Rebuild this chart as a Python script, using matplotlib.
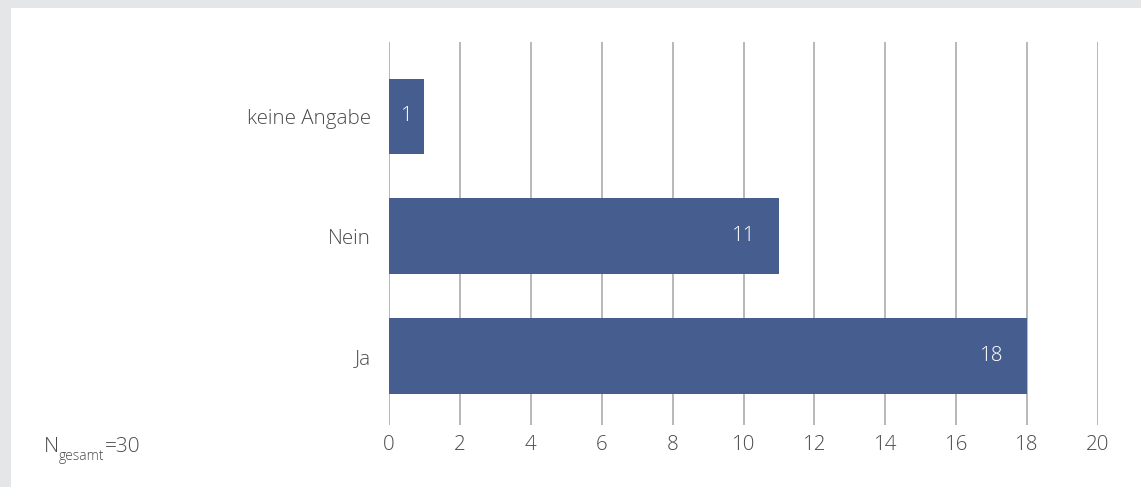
import matplotlib
matplotlib.use("Agg")
import matplotlib.pyplot as plt

categories = ["Ja", "Nein", "keine Angabe"]
values = [18, 11, 1]
xticks = [0, 2, 4, 6, 8, 10, 12, 14, 16, 18, 20]
note_main = "N"
note_sub = "gesamt"
note_tail = "=30"

plt.rcParams['font.family'] = ['Open Sans', 'DejaVu Sans']
plt.rcParams['font.weight'] = 300

W, H = 1141, 487
fig = plt.figure(figsize=(W/100, H/100), dpi=100)
fig.patch.set_facecolor('#e5e6e8')
# white panel
panel = plt.Rectangle((11/W, 0), 1, 1 - 8/H, transform=fig.transFigure,
                      facecolor='white', edgecolor='none', zorder=-10)
fig.patches.append(panel)

ax = fig.add_axes([389/W, (H-425)/H, (1098-389)/W, (425-42)/H])
ax.set_zorder(5)
ax.set_facecolor('none')
bar_color = '#465e8f'
ypos = list(range(len(categories)))
ax.barh(ypos, values, height=0.63, color=bar_color, zorder=3)
ax.set_xlim(0, 20)
ax.set_ylim(-0.575, 2.62)
ax.set_xticks(xticks)
ax.set_xticklabels([str(t) for t in xticks])
ax.set_yticks(ypos)
ax.set_yticklabels(categories)
for s in ax.spines.values():
    s.set_visible(False)
ax.grid(axis='x', color='#b8b8b8', linewidth=1.4, zorder=1)
ax.tick_params(axis='both', length=0, labelsize=14.8, labelcolor='#4a4a4a')
ax.tick_params(axis='x', pad=7.5)
ax.tick_params(axis='y', pad=13)

for y, v in zip(ypos, values):
    xt = v - 1.0 if v > 2 else v / 2
    ax.text(xt, y, str(v), ha='center', va='center', color='white', fontsize=14.8, zorder=4)

t1 = fig.text(44/W, 1 - 447/H, note_main, ha='left', va='center', fontsize=15, color='#4a4a4a')
fig.canvas.draw()
r = fig.canvas.get_renderer()
bb1 = t1.get_window_extent(r)
t2 = fig.text(bb1.x1/W, 1 - 456/H, note_sub, ha='left', va='center', fontsize=10, color='#4a4a4a')
bb2 = t2.get_window_extent(r)
fig.text(bb2.x1/W, 1 - 447/H, note_tail, ha='left', va='center', fontsize=15, color='#4a4a4a')

fig.savefig('out.png', dpi=100, facecolor=fig.get_facecolor())
